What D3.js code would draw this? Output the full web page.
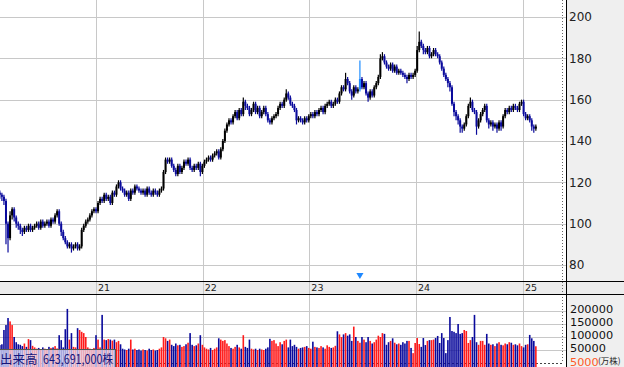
<!DOCTYPE html>
<html>
<head>
<meta charset="utf-8">
<script src="https://cdn.jsdelivr.net/npm/d3@7"></script>
<style>
body { margin: 0; background: #fff; }
svg { display: block; }
</style>
</head>
<body>
<script>
// weekly bars, first one in early Feb 2020
var startDate = new Date(2020, 1, 7);

var open = [115,114,113,111,100,93,104,107,103,100,
99,97,96,98,97,99,97,98,99,100,
98,101,99,100,101,99,102,101,104,106,
100,96,93,91,89,90,88,89,90,88,
89,97,99,101,102,104,106,107,106,110,
112,111,114,112,113,110,115,114,118,120,
117,116,114,115,112,116,115,118,117,116,
115,116,114,117,115,114,116,115,114,116,
117,125,131,130,131,128,126,124,128,125,
127,130,129,131,127,126,128,127,129,125,
128,130,131,132,131,133,134,135,132,136,
140,145,148,150,149,152,154,151,155,153,
159,157,156,153,155,158,154,156,152,154,
156,153,150,149,151,152,153,156,158,157,
160,163,161,158,157,155,150,151,150,149,
151,150,152,153,152,154,153,155,156,154,
157,158,159,157,158,160,159,163,166,165,
170,168,164,162,166,164,165,170,166,168,
163,161,164,162,166,168,171,180,181,178,
176,175,177,174,176,173,174,173,172,171,
170,172,171,172,174,184,188,186,184,183,
185,181,182,184,182,181,178,175,172,170,
168,166,158,154,152,150,147,146,148,152,
157,159,155,154,147,150,153,155,157,150,
148,149,147,148,146,149,147,152,155,154,
156,155,157,156,155,158,159,153,151,152,
150,147,146];

var high = [116,115,114,112,101,106,108,108,104,101,
100,98,99,99,100,100,99,100,101,101,
102,102,101,102,102,103,103,105,107,107,
101,97,94,92,91,91,90,91,91,90,
98,100,102,103,105,107,108,108,111,113,
113,115,115,114,114,116,116,119,121,121,
118,117,116,116,117,117,119,119,118,117,
117,117,118,118,116,117,117,116,117,118,
126,132,132,132,132,129,127,129,129,128,
131,131,132,132,128,129,129,130,130,129,
131,132,133,133,134,135,136,136,137,141,
146,149,151,151,153,155,155,156,156,161,
160,158,157,156,159,159,157,157,155,157,
157,154,151,152,153,154,157,159,159,161,
165,164,162,159,158,156,152,152,151,152,
152,153,154,154,155,155,156,157,157,158,
159,160,160,159,161,161,164,167,167,173,
171,169,165,167,167,166,179,171,169,169,
164,165,165,167,169,172,182,183,182,179,
177,178,178,177,177,175,175,174,173,172,
173,173,173,175,186,193,189,187,185,186,
186,183,185,185,183,182,179,176,173,171,
169,167,159,155,153,151,148,149,153,158,
161,160,156,155,151,154,156,158,158,151,
150,150,149,149,150,150,153,156,156,157,
157,158,158,157,159,160,160,154,153,153,
151,148,148];

var low = [112,111,109,90,86,92,102,101,98,97,
95,94,95,96,96,96,96,97,98,97,
97,98,98,99,98,98,100,100,103,99,
94,92,90,88,88,86,87,88,87,87,
88,96,98,100,101,103,105,105,105,109,
110,110,111,111,109,109,113,113,117,116,
115,113,113,111,111,114,114,116,115,114,
114,113,113,114,113,113,114,113,113,115,
116,124,129,129,127,125,123,123,124,124,
126,128,128,126,125,125,126,126,123,124,
127,129,130,130,130,132,133,131,131,135,
139,144,147,148,148,151,150,150,152,152,
155,155,152,152,154,153,153,151,151,153,
152,149,148,148,150,151,152,155,156,156,
159,160,157,156,154,148,149,149,148,148,
149,149,151,151,151,152,152,154,153,153,
156,157,156,156,157,158,158,162,164,164,
167,163,160,161,163,163,164,165,165,162,
159,160,161,161,165,167,170,179,177,175,
174,174,173,173,172,172,172,171,170,168,
169,170,170,171,173,183,185,182,182,182,
180,180,181,181,180,177,174,171,169,166,
164,157,152,150,148,144,144,145,147,151,
156,154,153,143,146,149,152,154,149,146,
147,145,146,144,145,145,146,151,153,153,
154,154,155,154,154,157,152,150,150,149,
145,144,145];

var close = [114,113,111,100,93,104,107,103,100,99,
97,96,98,97,99,97,98,99,100,98,
101,99,100,101,99,102,101,104,106,100,
96,93,91,89,90,88,89,90,88,89,
97,99,101,102,104,106,107,106,110,112,
111,114,112,113,110,115,114,118,120,117,
116,114,115,112,116,115,118,117,116,115,
116,114,117,115,114,116,115,114,116,117,
125,131,130,131,128,126,124,128,125,127,
130,129,131,127,126,128,127,129,125,128,
130,131,132,131,133,134,135,132,136,140,
145,148,150,149,152,154,151,155,153,159,
157,156,153,155,158,154,156,152,154,156,
153,150,149,151,152,153,156,158,157,160,
163,161,158,157,155,150,151,150,149,151,
150,152,153,152,154,153,155,156,154,157,
158,159,157,158,160,159,163,166,165,170,
168,164,162,166,164,165,170,166,168,163,
161,164,162,166,168,171,180,181,178,176,
175,177,174,176,173,174,173,172,171,170,
172,171,172,174,184,188,186,184,183,185,
181,182,184,182,181,178,175,172,170,168,
166,158,154,152,150,147,146,148,152,157,
159,155,154,147,150,153,155,157,150,148,
149,147,148,146,149,147,152,155,154,156,
155,157,156,155,158,159,153,151,152,150,
147,146,147];

// volume in 万株
var volume = [69000,72000,127000,146000,173000,160000,146000,100000,80000,72000,
70000,65000,75000,62000,92000,88000,66000,60000,55000,58000,
52000,60000,55000,50000,62000,58000,60000,65000,56000,107000,
88000,60000,130000,208000,90000,115000,62000,60000,134000,127000,
120000,115000,100000,60000,55000,52000,58000,107000,90000,60000,
185000,90000,88000,92000,90000,86000,90000,80000,85000,72000,
55000,52000,50000,55000,90000,52000,55000,50000,52000,48000,
52000,50000,48000,55000,50000,52000,48000,50000,55000,60000,
100000,95000,85000,90000,70000,65000,75000,68000,70000,62000,
65000,72000,78000,115000,70000,65000,68000,75000,107000,70000,
60000,55000,52000,58000,50000,55000,60000,95000,90000,85000,
88000,75000,65000,58000,55000,62000,70000,60000,55000,107000,
62000,58000,90000,55000,52000,55000,50000,55000,52000,50000,
55000,60000,93000,85000,88000,75000,65000,80000,72000,85000,
90000,60000,90000,65000,70000,62000,55000,58000,60000,62000,
65000,58000,55000,82000,62000,60000,58000,65000,60000,55000,
68000,62000,58000,60000,66000,122000,110000,100000,110000,115000,
105000,110000,85000,140000,100000,85000,78000,100000,90000,80000,
100000,85000,75000,80000,90000,105000,100000,115000,112000,70000,
80000,85000,95000,78000,72000,75000,70000,80000,75000,85000,
85000,58000,38000,77000,96000,73000,62000,96000,69000,85000,
88000,88000,90000,96000,104000,77000,115000,96000,38000,88000,
177000,123000,120000,115000,150000,112000,115000,127000,123000,77000,
88000,100000,185000,80000,70000,85000,85000,70000,112000,75000,
70000,72000,65000,75000,80000,70000,68000,75000,72000,80000,
78000,70000,72000,68000,75000,65000,60000,70000,72000,108000,
95000,85000,64369];

var priceTicks = [80, 100, 120, 140, 160, 180, 200];
var volTicks = [200000, 150000, 100000, 50000];
var yearTicks = [2021, 2022, 2023, 2024, 2025];
var yearLabels = ["21", "22", "23", "24", "25"];
var markIndex = 176;
var volTitle = "出来高";
var volTotal = "643,691,000株";

var width = 624, height = 367;
var plotRight = 566;
var stripTop = 281, stripBottom = 294;

var data = close.map(function(c, i) {
    return {date: d3.timeWeek.offset(startDate, i), o: open[i], h: high[i], l: low[i], c: c, v: volume[i], i: i};
});

var x = d3.scaleTime()
    .domain([new Date(2021, 0, 1), new Date(2025, 0, 1)])
    .range([96, 523]);
var y = d3.scaleLinear().domain([80, 200]).range([265, 17]);
var yv = d3.scaleLinear().domain([0, 200000]).range([363, 311]);

var svg = d3.select("body").append("svg")
    .attr("width", width)
    .attr("height", height);

// backgrounds
svg.append("rect").attr("x", plotRight).attr("y", 0)
    .attr("width", width - plotRight).attr("height", height).attr("fill", "#efefef");
svg.append("rect").attr("x", 0).attr("y", stripTop)
    .attr("width", width).attr("height", stripBottom - stripTop).attr("fill", "#ececec");

// grid
svg.selectAll(".pgrid").data(priceTicks).enter().append("line")
    .attr("x1", 0).attr("x2", plotRight)
    .attr("y1", function(d) { return Math.round(y(d)) + 0.5; })
    .attr("y2", function(d) { return Math.round(y(d)) + 0.5; })
    .attr("stroke", "#c8c8c8");
svg.selectAll(".vgrid").data(volTicks).enter().append("line")
    .attr("x1", 0).attr("x2", plotRight)
    .attr("y1", function(d) { return Math.round(yv(d)) + 0.5; })
    .attr("y2", function(d) { return Math.round(yv(d)) + 0.5; })
    .attr("stroke", "#c8c8c8");
svg.selectAll(".xgrid").data(yearTicks).enter().append("line")
    .attr("x1", function(d) { return Math.round(x(new Date(d, 0, 1))) + 0.5; })
    .attr("x2", function(d) { return Math.round(x(new Date(d, 0, 1))) + 0.5; })
    .attr("y1", 0).attr("y2", height)
    .attr("stroke", "#c8c8c8");

// dotted borders
svg.append("line").attr("x1", 562.5).attr("x2", 562.5).attr("y1", 0).attr("y2", 363)
    .attr("stroke", "#666").attr("stroke-dasharray", "1,2");
svg.append("line").attr("x1", 0).attr("x2", 563).attr("y1", 363.5).attr("y2", 363.5)
    .attr("stroke", "#444").attr("stroke-dasharray", "2,2");

// volume bars
svg.selectAll(".vol").data(data).enter().append("rect")
    .attr("x", function(d) { return x(d.date) - 0.8; })
    .attr("width", 1.6)
    .attr("y", function(d) { return yv(d.v); })
    .attr("height", function(d) { return height - yv(d.v); })
    .attr("fill", function(d) {
        if (d.c > d.o) return "#ff1a1a";
        if (d.c < d.o) return "#0a0a9c";
        return "#a8a8a8";
    });

// candles
function candleColor(d) {
    if (d.i == markIndex) return "#1e8cff";
    return d.c >= d.o ? "#000000" : "#0a0a9c";
}
svg.selectAll(".wick").data(data).enter().append("line")
    .attr("x1", function(d) { return x(d.date); })
    .attr("x2", function(d) { return x(d.date); })
    .attr("y1", function(d) { return y(d.h); })
    .attr("y2", function(d) { return y(d.l); })
    .attr("stroke", candleColor)
    .attr("stroke-width", 1.2);
svg.selectAll(".body").data(data).enter().append("rect")
    .attr("x", function(d) { return x(d.date) - 1; })
    .attr("width", 2)
    .attr("y", function(d) { return y(Math.max(d.o, d.c)); })
    .attr("height", function(d) { return Math.max(1, Math.abs(y(d.o) - y(d.c))); })
    .attr("fill", candleColor);

// marker
svg.append("path")
    .attr("d", d3.symbol().type(d3.symbolTriangle).size(22))
    .attr("transform", "translate(" + x(data[markIndex].date) + ",275) rotate(180)")
    .attr("fill", "#1e88ff");

// frame lines
svg.append("line").attr("x1", 0).attr("x2", width).attr("y1", stripTop + 0.5).attr("y2", stripTop + 0.5).attr("stroke", "#000");
svg.append("line").attr("x1", 0).attr("x2", width).attr("y1", stripBottom + 0.5).attr("y2", stripBottom + 0.5).attr("stroke", "#000");
svg.append("line").attr("x1", plotRight + 0.5).attr("x2", plotRight + 0.5).attr("y1", 0).attr("y2", height).attr("stroke", "#000");

// year labels
svg.selectAll(".ylab").data(yearTicks).enter().append("text")
    .attr("x", function(d) { return x(new Date(d, 0, 1)) + 2; })
    .attr("y", 291)
    .attr("font-family", "DejaVu Sans")
    .attr("font-size", "9.5px")
    .attr("fill", "#222")
    .text(function(d, i) { return yearLabels[i]; });

// price labels
svg.selectAll(".plab").data(priceTicks).enter().append("text")
    .attr("x", 569)
    .attr("y", function(d) { return y(d) + 4.4; })
    .attr("font-family", "DejaVu Sans")
    .attr("font-size", "12px")
    .attr("fill", "#222")
    .text(function(d) { return d; });

// volume labels
svg.selectAll(".vlab").data(volTicks).enter().append("text")
    .attr("x", 570)
    .attr("y", function(d) { return yv(d) + 2; })
    .attr("font-family", "DejaVu Sans")
    .attr("font-size", "11.3px")
    .attr("fill", "#111")
    .text(function(d) { return d; });
svg.append("text").attr("x", 570).attr("y", 365.5)
    .attr("font-family", "DejaVu Sans").attr("font-size", "11.3px")
    .attr("fill", "#ff5a28").text("5000");
svg.append("text").attr("x", 598).attr("y", 364)
    .attr("font-family", "Noto Sans CJK JP").attr("font-size", "8.5px")
    .attr("fill", "#222").text("(万株)");

// volume total box
svg.append("rect").attr("x", -1).attr("y", 349.5).attr("width", 116.5).attr("height", 20)
    .attr("fill", "rgba(226,226,246,0.72)").attr("stroke", "#555");
svg.append("text").attr("x", 0).attr("y", 364)
    .attr("font-family", "Noto Sans CJK JP").attr("font-size", "12.5px")
    .attr("fill", "#14147a").text(volTitle);
svg.append("text").attr("x", 43).attr("y", 364)
    .attr("font-family", "Noto Sans CJK JP").attr("font-size", "12.5px")
    .attr("textLength", 70).attr("lengthAdjust", "spacingAndGlyphs")
    .attr("fill", "#14147a").text(volTotal);
</script>
</body>
</html>
